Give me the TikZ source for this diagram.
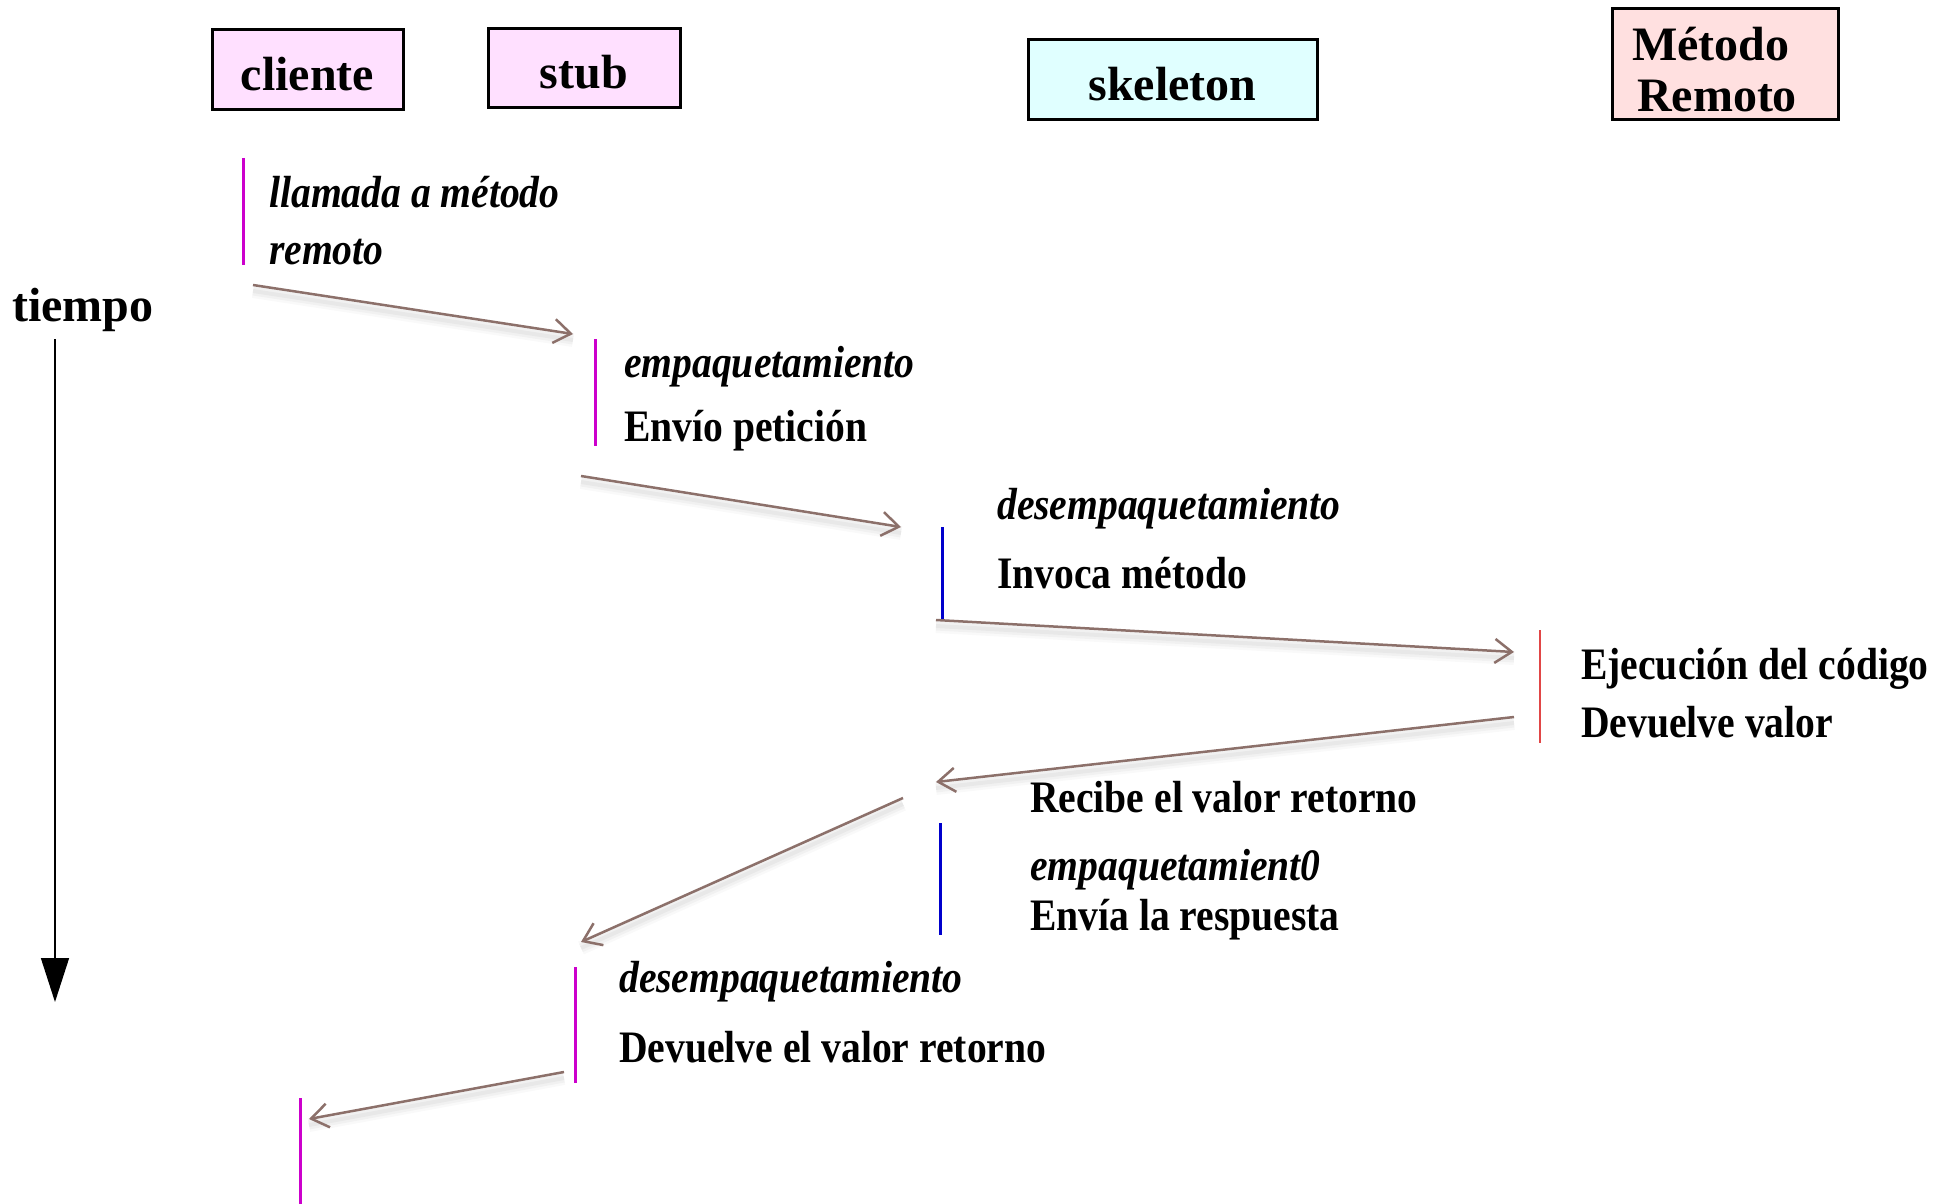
\documentclass[tikz,border=0pt]{standalone}
\usepackage{fontspec}
\setmainfont{Liberation Serif}
\newfontfamily\bodyfont{Liberation Serif}[FakeStretch=0.88]
\usetikzlibrary{arrows.meta}
\definecolor{lifeM}{RGB}{204,0,204}
\definecolor{lifeB}{RGB}{0,0,204}
\definecolor{lifeR}{RGB}{225,70,70}
\definecolor{msg}{RGB}{140,112,106}
\definecolor{boxpink}{RGB}{255,224,255}
\definecolor{boxcyan}{RGB}{224,255,255}
\definecolor{boxrose}{RGB}{255,224,224}

\begin{document}
\begin{tikzpicture}[x=1pt,y=-1pt,
  actor/.style={draw=black, line width=3pt, inner sep=0pt,
    text height=41pt, text depth=0pt,
    font=\fontsize{48}{51}\selectfont\bfseries},
  bigtxt/.style={anchor=base, inner sep=0pt,
    font=\fontsize{48}{51}\selectfont\bfseries},
  txt/.style={anchor=base west, inner sep=0pt,
    font=\bodyfont\fontsize{45}{50}\selectfont\bfseries},
  itxt/.style={anchor=base west, inner sep=0pt,
    font=\bodyfont\fontsize{45}{50}\selectfont\bfseries\itshape},
  bar/.style={line width=3pt},
  softshade/.style 2 args={preaction={draw=black, arrows=-, opacity=#1,
      line width=#2, transform canvas={yshift=-6pt}}},
  msgarrow/.style={draw=msg, line width=2.5pt,
    -{Straight Barb[length=17pt,width=24pt]},
    softshade={0.025}{14pt}, softshade={0.03}{9pt}, softshade={0.035}{4pt}},
]
\fill[white] (0,0) rectangle (1952,1204);
\useasboundingbox (0,0) rectangle (1952,1204);

% participants
\node[actor, fill=boxpink, minimum width=191pt, minimum height=80pt] (cliente) at (307.5,70) {cliente};
\node[actor, fill=boxpink, minimum width=192pt, minimum height=79pt] (stub) at (584,68.5) {stub};
\node[actor, fill=boxcyan, minimum width=289pt, minimum height=80pt] (skeleton) at (1172.5,80) {skeleton};
\node[actor, fill=boxrose, minimum width=226pt, minimum height=111pt] (remoto) at (1725,64.5) {};
\node[bigtxt] (remotoA) at (1711,61) {Método};
\node[bigtxt] (remotoB) at (1717,112) {Remoto};

% time axis
\node[anchor=base west, inner sep=0pt, font=\fontsize{48}{51}\selectfont\bfseries] (tiempo) at (12,321) {tiempo};
\coordinate (t0) at (55,339);
\coordinate (t1) at (55,1002);
\draw[line width=1.5pt, -{Triangle[length=44pt,width=28pt]}] (t0) -- (t1);

% activation bars
\draw[bar, lifeM] (243,158) -- (243,265);
\draw[bar, lifeM] (595,339) -- (595,446);
\draw[bar, lifeB] (942,527) -- (942,619);
\draw[line width=1.5pt, lifeR] (1540,630) -- (1540,743);
\draw[bar, lifeB] (940,823) -- (940,935);
\draw[bar, lifeM] (575,967) -- (575,1083);
\draw[bar, lifeM] (300,1098) -- (300,1204);

% step descriptions
\node[itxt] (l1) at (269,207) {llamada a método};
\node[itxt] (l2) at (269,264) {remoto};
\node[itxt] (s1) at (624,377) {empaquetamiento};
\node[txt]  (s2) at (624,441) {Envío petición};
\node[itxt] (k1) at (997,519) {desempaquetamiento};
\node[txt]  (k2) at (997,588) {Invoca método};
\node[txt]  (r1) at (1581,679) {Ejecución del código};
\node[txt]  (r2) at (1581,737) {Devuelve valor};
\node[txt]  (k3) at (1030,812) {Recibe el valor retorno};
\node[itxt] (k4) at (1030,880) {empaquetamient0};
\node[txt]  (k5) at (1030,930) {Envía la respuesta};
\node[itxt] (s3) at (619,992) {desempaquetamiento};
\node[txt]  (s4) at (619,1062) {Devuelve el valor retorno};

% message end points
\coordinate (m1a) at (253,285);  \coordinate (m1b) at (573,334);
\coordinate (m2a) at (581,476);  \coordinate (m2b) at (901,527);
\coordinate (m3a) at (936,620);  \coordinate (m3b) at (1514,652);
\coordinate (m4a) at (1514,717); \coordinate (m4b) at (936,782);
\coordinate (m5a) at (903,798);  \coordinate (m5b) at (581,942);
\coordinate (m6a) at (564,1072); \coordinate (m6b) at (309,1119);

% messages
\draw[msgarrow] (m1a) -- (m1b);
\draw[msgarrow] (m2a) -- (m2b);
\draw[msgarrow] (m3a) -- (m3b);
\draw[msgarrow] (m4a) -- (m4b);
\draw[msgarrow] (m5a) -- (m5b);
\draw[msgarrow] (m6a) -- (m6b);
\end{tikzpicture}
\end{document}
